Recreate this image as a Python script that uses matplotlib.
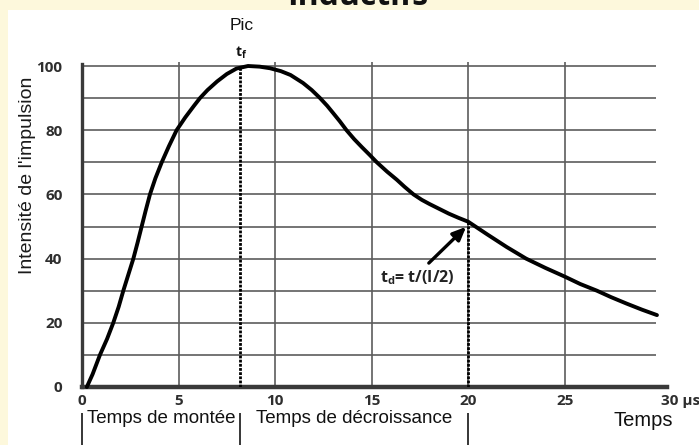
import matplotlib
matplotlib.use("Agg")
import matplotlib.pyplot as plt
from matplotlib.patches import Rectangle

# Pulse intensity (%) against time (µs)
time_us = [0.25, 0.55, 0.93, 1.3, 1.62, 1.9, 2.14, 2.4, 2.66, 2.88, 3.09, 3.3,
           3.52, 3.8, 4.13, 4.5, 4.9, 5.35, 5.8, 6.11, 6.5, 7.0, 7.5, 8.0,
           8.6, 9.2, 9.74, 10.3, 10.8, 11.45, 11.9, 12.33, 12.7, 13.0, 13.35,
           13.7, 14.1, 14.5, 14.9, 15.27, 15.8, 16.3, 16.7, 17.17, 17.6, 18.0,
           18.5, 19.0, 19.5, 20.0, 21.0, 22.0, 23.0, 24.0, 25.0, 25.8, 26.67,
           27.4, 28.2, 29.0, 29.78]
intensity = [0, 4, 10, 15, 20, 25, 30, 35, 40, 45, 50, 55,
             60, 65, 70, 75, 80, 84, 87.6, 90, 92.5, 95.2, 97.5, 99.2,
             100, 99.8, 99.3, 98.4, 97.2, 94.7, 92.5, 90, 87.6, 85.4, 82.8,
             80, 77.2, 74.7, 72.3, 70, 67.1, 64.6, 62.4, 60, 58.3, 57.0,
             55.5, 54.0, 52.7, 51.5, 47.5, 43.6, 40, 37.1, 34.4, 32.1, 30,
             28.0, 26, 24.1, 22.4]

peak_time = 8.2          # t_f
half_time = 20.0         # t_d
half_level = 51.5
x_ticks = [0, 5, 10, 15, 20, 25, 30]
x_tick_labels = ["0", "5", "10", "15", "20", "25", "30 µs"]
y_ticks = [0, 20, 40, 60, 80, 100]
y_grid = [10, 20, 30, 40, 50, 60, 70, 80, 90, 100]
x_grid = [5, 10, 15, 20, 25]
phase_edges = [0, peak_time, half_time]
phase_labels = ["Temps de montée", "Temps de décroissance"]

W, H = 699, 445
fig = plt.figure(figsize=(W / 100, H / 100), dpi=100, facecolor="#FDF8DC")
# white sheet behind the chart
fig.patches.append(Rectangle((8 / W, 0), 1, 1 - 10 / H, transform=fig.transFigure,
                             facecolor="white", edgecolor="none", zorder=-10))

fig.text(358 / W, 1 - 5 / H, "Inductifs", ha="center", va="baseline",
         fontsize=23, fontweight="bold", family="Open Sans", color="#111111")

ax = fig.add_axes([82 / W, 1 - 387 / H, 585 / W, 321 / H])
ax.set_facecolor("none")
ax.set_xlim(0, 30.3)
ax.set_ylim(0, 100)

grid_c = "#5c5c5c"
ax.hlines(y_grid, 0, 29.75, colors=grid_c, linewidth=1.2, zorder=1, clip_on=False)
ax.vlines(x_grid, 0, 101.3, colors=grid_c, linewidth=1.2, zorder=1, clip_on=False)

for s in ["top", "right"]:
    ax.spines[s].set_visible(False)
ax.spines["left"].set_linewidth(2.4)
ax.spines["left"].set_color("#3a3a3a")
ax.spines["left"].set_bounds(0, 100.6)
ax.spines["bottom"].set_linewidth(3.2)
ax.spines["bottom"].set_color("#3a3a3a")

ax.set_xticks(x_ticks)
ax.set_xticklabels(x_tick_labels)
ax.set_yticks(y_ticks)
ax.tick_params(axis="both", length=0, labelsize=11, labelcolor="#2e2e2e")
ax.tick_params(axis="x", pad=5)
ax.tick_params(axis="y", pad=14)
for lab in ax.get_xticklabels() + ax.get_yticklabels():
    lab.set_fontweight("bold")
    lab.set_family("Open Sans")
ax.get_xticklabels()[-1].set_horizontalalignment("left")
ax.get_xticklabels()[-1].set_x(29.85)

ax.set_ylabel("Intensité de l'impulsion", fontsize=14, family="Liberation Sans",
              color="#1a1a1a")
ax.yaxis.set_label_coords(-0.078, 0.66)

# pulse curve
ax.plot(time_us, intensity, color="black", linewidth=2.8, zorder=4,
        solid_capstyle="round", solid_joinstyle="round", clip_on=False)

# dotted markers for the peak and the half-decay point
ax.vlines(peak_time, 0, 100, colors="black", linewidth=2.0,
          linestyles=(0, (1.0, 0.5)), zorder=3)
ax.vlines(half_time, 0, half_level, colors="black", linewidth=2.0,
          linestyles=(0, (1.0, 0.5)), zorder=3)

# phase separators below the axis
ax.vlines(phase_edges, -8.1, -18.2, colors="black", linewidth=1.1, clip_on=False)
for i, lab in enumerate(phase_labels):
    ax.text((phase_edges[i] + phase_edges[i + 1]) / 2, -9.9, lab, ha="center",
            va="center", fontsize=13.5, family="Liberation Sans", color="#111111",
            clip_on=False)
ax.text(29.07, -10.4, "Temps", ha="center", va="center", fontsize=14.5,
        family="Liberation Sans", color="#111111", clip_on=False)

ax.text(peak_time + 0.05, 112.5, "Pic", ha="center", va="center", fontsize=12.5,
        family="Liberation Sans", color="#111111", clip_on=False)
ax.text(peak_time + 0.05, 104.0, r"t$_\mathregular{f}$", ha="center", va="center",
        fontsize=10, fontweight="bold", family="Open Sans", color="#111111",
        clip_on=False)

ax.annotate("", xy=(half_time, half_level - 1), xytext=(17.86, 38.0),
            arrowprops=dict(arrowstyle="-|>,head_length=0.8,head_width=0.35",
                            color="black", lw=2.4), zorder=5)
ax.text(15.44, 34.0, r"t$_\mathregular{d}$= t/(I/2)", ha="left", va="center",
        fontsize=11.5, fontweight="bold", family="Open Sans", color="#222222")

fig.savefig("out.png", dpi=100, facecolor=fig.get_facecolor())
